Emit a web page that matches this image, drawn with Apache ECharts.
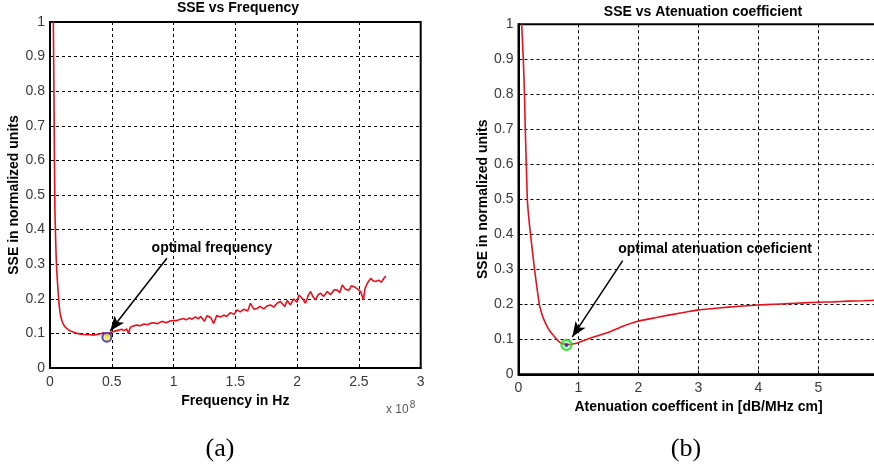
<!DOCTYPE html>
<html>
<head>
<meta charset="utf-8">
<script src="https://cdn.jsdelivr.net/npm/echarts@6/dist/echarts.min.js"></script>
<style>html,body{margin:0;padding:0;background:#fff}#c{width:874px;height:469px}</style>
</head>
<body>
<div id="c"></div>
<script>
// ---- Data ----
// (a) SSE vs frequency, frequency in units of 1e8 Hz
const freqX = [0.027,0.032,0.036,0.04,0.045,0.05,0.055,0.06,0.068,0.075,0.081,0.09,0.1,0.11,0.122,0.14,0.16,0.189,0.22,0.25,0.27,0.3,0.33,0.351,0.38,0.41,0.432,0.445,0.46,0.48,0.5,0.513,0.54,0.56,0.58,0.6,0.62,0.635,0.65,0.67,0.703,0.73,0.76,0.79,0.811,0.84,0.87,0.9,0.919,0.94,0.97,1.0,1.027,1.05,1.081,1.1,1.13,1.15,1.176,1.2,1.22,1.25,1.27,1.3,1.324,1.35,1.38,1.406,1.43,1.46,1.49,1.514,1.54,1.57,1.6,1.622,1.65,1.676,1.7,1.73,1.76,1.784,1.81,1.84,1.865,1.9,1.92,1.946,1.97,2.0,2.014,2.027,2.045,2.068,2.09,2.109,2.13,2.149,2.17,2.19,2.215,2.244,2.27,2.3,2.325,2.345,2.366,2.39,2.42,2.44,2.46,2.49,2.514,2.536,2.55,2.568,2.595,2.615,2.636,2.66,2.68,2.7,2.717];
const freqSSE = [1.0,0.8,0.6,0.45,0.38,0.32,0.28,0.25,0.21,0.18,0.16,0.145,0.133,0.125,0.119,0.113,0.108,0.104,0.1,0.098,0.097,0.096,0.096,0.095,0.097,0.099,0.102,0.097,0.093,0.1,0.104,0.105,0.108,0.11,0.112,0.108,0.113,0.1,0.118,0.121,0.124,0.122,0.127,0.125,0.129,0.131,0.128,0.134,0.134,0.131,0.136,0.137,0.137,0.14,0.143,0.139,0.145,0.141,0.148,0.142,0.149,0.135,0.151,0.146,0.129,0.152,0.147,0.153,0.149,0.16,0.155,0.168,0.162,0.17,0.165,0.187,0.17,0.172,0.178,0.171,0.18,0.182,0.176,0.188,0.192,0.178,0.195,0.182,0.2,0.19,0.211,0.216,0.2,0.187,0.21,0.221,0.205,0.197,0.212,0.216,0.207,0.221,0.212,0.226,0.225,0.218,0.24,0.228,0.225,0.238,0.235,0.228,0.221,0.197,0.23,0.245,0.259,0.252,0.25,0.254,0.248,0.258,0.266];
const freqOptimal = [0.46, 0.089];

// (b) SSE vs attenuation coefficient
const attX = [0.053,0.08,0.1,0.113,0.13,0.147,0.17,0.2,0.23,0.26,0.29,0.32,0.347,0.38,0.41,0.44,0.47,0.51,0.553,0.6,0.64,0.69,0.74,0.8,0.88,0.97,1.08,1.19,1.36,1.5,1.75,2.0,2.2,2.4,2.6,2.8,3.0,3.25,3.5,3.75,4.0,4.25,4.5,4.75,5.0,5.25,5.5,5.75,6.0];
const attSSE = [1.0,0.9,0.8,0.7,0.6,0.5,0.45,0.4,0.355,0.31,0.27,0.232,0.2,0.178,0.162,0.15,0.139,0.127,0.117,0.107,0.099,0.091,0.087,0.085,0.086,0.089,0.096,0.103,0.112,0.12,0.138,0.152,0.159,0.166,0.172,0.178,0.184,0.188,0.192,0.195,0.198,0.2,0.202,0.204,0.206,0.207,0.209,0.21,0.212];
const attOptimal = [0.8, 0.084];

const freqTicks = ['0','0.5','1','1.5','2','2.5','3'];
const titles = ['SSE vs Frequency', 'SSE vs Atenuation coefficient'];
const xNames = ['Frequency in Hz', 'Atenuation coefficent in [dB/MHz cm]'];
const yName = 'SSE in normalized units';
const annotations = ['optimal frequency', 'optimal atenuation coeficient'];
// annotation anchors in data space: [text], [arrow start], [arrow end]
const freqNote = [[1.31, 0.346], [0.946, 0.317], [0.487, 0.107]];
const attNote = [[3.275, 0.357], [1.737, 0.325], [0.897, 0.107]];

// ---- Chart ----
const zip = (xs, ys) => xs.map((x, i) => [x, ys[i]]);
const FONT = 'Liberation Sans';
const tickLabel = { color: '#3a3a3a', fontFamily: FONT, fontSize: 14, margin: 5 };
const nameStyle = { color: '#000', fontFamily: FONT, fontSize: 14, fontWeight: 'bold' };
const split = { show: true, lineStyle: { color: '#000', type: [3, 3], width: 1 } };
const axLine = { show: true, onZero: false, lineStyle: { color: '#000', width: 2 } };
const axTick = { show: true, inside: true, length: 4, lineStyle: { color: '#000' } };

function noteSeries(gridIdx, note, text) {
  return {
    type: 'line', xAxisIndex: gridIdx, yAxisIndex: gridIdx, data: [], silent: true,
    markLine: {
      silent: true, animation: false,
      symbol: ['none', 'arrow'], symbolSize: [9, 15],
      lineStyle: { color: '#000', width: 1.5, type: 'solid' },
      label: { show: false },
      data: [[{ coord: note[1] }, { coord: note[2] }]]
    },
    markPoint: {
      silent: true, animation: false,
      symbol: 'rect', symbolSize: 1, itemStyle: { color: 'rgba(0,0,0,0)' },
      label: { show: true, position: 'inside', color: '#000', fontFamily: FONT, fontSize: 14, fontWeight: 'bold', formatter: text },
      data: [{ coord: note[0] }]
    }
  };
}

const chart = echarts.init(document.getElementById('c'), null, { renderer: 'canvas' });
chart.setOption({
  backgroundColor: '#fff',
  animation: false,
  title: [
    { text: titles[0], left: 233, top: -4, textAlign: 'center', textStyle: { fontFamily: FONT, fontSize: 14, fontWeight: 'bold', color: '#000' } },
    { text: titles[1], left: 698, top: 0, textAlign: 'center', textStyle: { fontFamily: FONT, fontSize: 14, fontWeight: 'bold', color: '#000' } }
  ],
  grid: [
    { left: 50, top: 22, width: 370.7, height: 346, show: true, borderColor: '#000', borderWidth: 2, backgroundColor: '#fff', outerBoundsMode: 'none', containLabel: false },
    { left: 518.5, top: 24.3, width: 360, height: 350, show: true, borderColor: '#000', borderWidth: 2, backgroundColor: '#fff', outerBoundsMode: 'none', containLabel: false }
  ],
  xAxis: [
    { type: 'value', gridIndex: 0, min: 0, max: 3, interval: 0.5, axisLine: axLine, axisTick: axTick, splitLine: split,
      axisLabel: Object.assign({}, tickLabel, { margin: 7, formatter: (v) => freqTicks[Math.round(v / 0.5)] }),
      name: xNames[0], nameLocation: 'middle', nameGap: 24, nameTextStyle: nameStyle },
    { type: 'value', gridIndex: 1, min: 0, max: 6, interval: 1, axisLine: axLine, axisTick: axTick, splitLine: split,
      axisLabel: Object.assign({}, tickLabel, { margin: 7 }),
      name: xNames[1], nameLocation: 'middle', nameGap: 21, nameTextStyle: nameStyle }
  ],
  yAxis: [
    { type: 'value', gridIndex: 0, min: 0, max: 1, interval: 0.1, axisLine: axLine, axisTick: axTick, splitLine: split,
      axisLabel: tickLabel, name: yName, nameLocation: 'middle', nameGap: 28, nameRotate: 90, nameTextStyle: nameStyle },
    { type: 'value', gridIndex: 1, min: 0, max: 1, interval: 0.1, axisLine: axLine, axisTick: axTick, splitLine: split,
      axisLabel: tickLabel, name: yName, nameLocation: 'middle', nameGap: 27, nameRotate: 90, nameTextStyle: nameStyle }
  ],
  series: [
    { type: 'line', xAxisIndex: 0, yAxisIndex: 0, data: zip(freqX, freqSSE), showSymbol: false, symbol: 'none',
      lineStyle: { color: '#e8101a', width: 1.6 }, clip: true },
    { type: 'line', xAxisIndex: 1, yAxisIndex: 1, data: zip(attX, attSSE), showSymbol: false, symbol: 'none', smooth: 0.15,
      lineStyle: { color: '#e8101a', width: 1.6 }, clip: true },
    { type: 'scatter', xAxisIndex: 0, yAxisIndex: 0, data: [freqOptimal], symbol: 'circle', symbolSize: 9,
      itemStyle: { color: '#f2e640', borderColor: '#1a1adc', borderWidth: 2 }, z: 5 },
    { type: 'scatter', xAxisIndex: 1, yAxisIndex: 1, data: [attOptimal], symbol: 'circle', symbolSize: 10,
      itemStyle: { color: 'rgba(120,230,120,0.35)', borderColor: '#22dd22', borderWidth: 2.5 }, z: 5 },
    { type: 'scatter', xAxisIndex: 1, yAxisIndex: 1, data: [attOptimal], symbol: 'circle', symbolSize: 4,
      itemStyle: { color: '#2020b0' }, z: 6 },
    noteSeries(0, freqNote, annotations[0]),
    noteSeries(1, attNote, annotations[1])
  ],
  graphic: [
    { type: 'text', left: 386, top: 400, style: { text: 'x 10{s|8}', fill: '#555', font: '12px "Liberation Sans"',
      rich: { s: { fontSize: 10, verticalAlign: 'top', padding: [0, 0, 10, 1], fill: '#555' } } } },
    { type: 'text', x: 220, y: 449, style: { text: '(a)', fill: '#000', font: '26px "Liberation Serif"', textAlign: 'center', textVerticalAlign: 'middle' } },
    { type: 'text', x: 686, y: 449, style: { text: '(b)', fill: '#000', font: '26px "Liberation Serif"', textAlign: 'center', textVerticalAlign: 'middle' } }
  ]
});
</script>
</body>
</html>
